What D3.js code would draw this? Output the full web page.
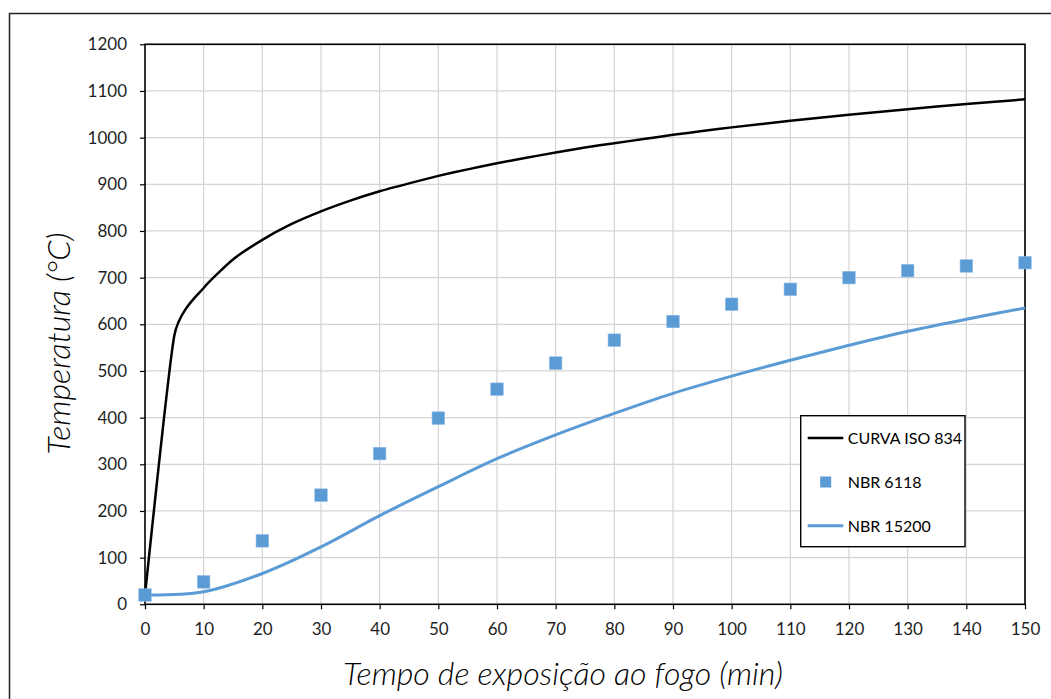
<!DOCTYPE html>
<html>
<head>
<meta charset="utf-8">
<script src="https://cdn.jsdelivr.net/npm/d3@7"></script>
<style>
  html, body { margin: 0; padding: 0; background: #fff; }
  svg { display: block; }
  text { font-family: Lato, "Open Sans", sans-serif; }
</style>
</head>
<body>
<svg id="chart" width="1051" height="699"></svg>
<script>
// Fire-exposure temperature curves (°C) against time (min)
const isoTime = [0, 5, 10, 15, 20, 25, 30, 35, 40, 45, 50, 55, 60, 65, 70, 75,
                 80, 85, 90, 95, 100, 110, 120, 130, 140, 150];
const isoTemp = [20, 576, 678, 739, 781, 815, 842, 865, 885, 902, 918, 932, 945, 957, 968, 979,
                 988, 997, 1006, 1014, 1022, 1036, 1049, 1061, 1072, 1082];

const nbr6118Time = [0, 10, 20, 30, 40, 50, 60, 70, 80, 90, 100, 110, 120, 130, 140, 150];
const nbr6118Temp = [20, 48, 136, 234, 323, 399, 461, 517, 566, 606, 643, 675, 700, 715, 725, 732];

const nbr15200Time = [0, 10, 20, 30, 40, 50, 60, 70, 80, 90, 100, 110, 120, 130, 140, 150];
const nbr15200Temp = [20, 27, 66, 123, 190, 252, 312, 363, 409, 452, 489, 523, 555, 585, 611, 635];

const xTicks = [0, 10, 20, 30, 40, 50, 60, 70, 80, 90, 100, 110, 120, 130, 140, 150];
const yTicks = [0, 100, 200, 300, 400, 500, 600, 700, 800, 900, 1000, 1100, 1200];

const seriesNames = ["CURVA ISO 834", "NBR 6118", "NBR 15200"];
const xTitle = "Tempo de exposição ao fogo (min)";
const yTitle = "Temperatura (°C)";

const svg = d3.select("#chart");
const plot = { left: 145, right: 1025, top: 44.3, bottom: 604.3 };
const blue = "#5b9bd5";

const x = d3.scaleLinear().domain([0, 150]).range([plot.left, plot.right]);
const y = d3.scaleLinear().domain([0, 1200]).range([plot.bottom, plot.top]);

// outer chart border (top and left edges visible)
svg.append("path")
  .attr("d", "M9.5,699 L9.5,13.5 L1051,13.5")
  .attr("fill", "none").attr("stroke", "#222").attr("stroke-width", 1.5);

// gridlines
const grid = svg.append("g");
grid.selectAll(".gx").data(xTicks.slice(1)).join("line")
  .attr("x1", d => x(d)).attr("x2", d => x(d))
  .attr("y1", plot.top).attr("y2", plot.bottom)
  .attr("stroke", "#d4d4d4").attr("stroke-width", 1.2);
grid.selectAll(".gy").data(yTicks.slice(1)).join("line")
  .attr("x1", plot.left).attr("x2", plot.right)
  .attr("y1", d => y(d)).attr("y2", d => y(d))
  .attr("stroke", "#d4d4d4").attr("stroke-width", 1.2);

// axes
const tickColor = "#1f1f1f";
const xAxis = svg.append("g").attr("transform", `translate(0,${plot.bottom})`)
  .call(d3.axisBottom(x).tickValues(xTicks).tickSize(5).tickPadding(14).tickFormat(d3.format("d")));
const yAxis = svg.append("g").attr("transform", `translate(${plot.left},0)`)
  .call(d3.axisLeft(y).tickValues(yTicks).tickSize(5).tickPadding(13).tickFormat(d3.format("d")));
[xAxis, yAxis].forEach(g => {
  g.select(".domain").remove();
  g.selectAll(".tick line").attr("stroke", "#000").attr("stroke-width", 1.2);
  g.selectAll(".tick text").attr("fill", tickColor)
    .style("font-family", "Lato, sans-serif").style("font-size", "17px");
});

// plot frame
svg.append("rect")
  .attr("x", plot.left).attr("y", plot.top)
  .attr("width", plot.right - plot.left).attr("height", plot.bottom - plot.top)
  .attr("fill", "none").attr("stroke", "#000").attr("stroke-width", 1.6);

// series
const isoLine = d3.line().x(d => x(d[0])).y(d => y(d[1])).curve(d3.curveCardinal.tension(0.5));
svg.append("path")
  .datum(d3.zip(isoTime, isoTemp))
  .attr("d", isoLine)
  .attr("fill", "none").attr("stroke", "#000").attr("stroke-width", 2.5);

const nbrLine = d3.line().x(d => x(d[0])).y(d => y(d[1])).curve(d3.curveCatmullRom.alpha(0.5));
svg.append("path")
  .datum(d3.zip(nbr15200Time, nbr15200Temp))
  .attr("d", nbrLine)
  .attr("fill", "none").attr("stroke", blue).attr("stroke-width", 3);

const sq = 12.5;
svg.append("g").selectAll("rect")
  .data(d3.zip(nbr6118Time, nbr6118Temp))
  .join("rect")
  .attr("x", d => x(d[0]) - sq / 2).attr("y", d => y(d[1]) - sq / 2)
  .attr("width", sq).attr("height", sq)
  .attr("fill", blue).attr("stroke", "#8ab8e3").attr("stroke-width", 0.6);

// legend
const lg = svg.append("g");
lg.append("rect")
  .attr("x", 800.7).attr("y", 415.7).attr("width", 164.3).attr("height", 131)
  .attr("fill", "#fff").attr("stroke", "#000").attr("stroke-width", 1.4);
const rowsY = [438, 482, 525.7];
lg.append("line").attr("x1", 807.7).attr("x2", 843.3).attr("y1", rowsY[0]).attr("y2", rowsY[0])
  .attr("stroke", "#000").attr("stroke-width", 2.5);
lg.append("rect").attr("x", 825.7 - 5.5).attr("y", rowsY[1] - 5.5).attr("width", 11).attr("height", 11)
  .attr("fill", blue);
lg.append("line").attr("x1", 807.7).attr("x2", 843.3).attr("y1", rowsY[2]).attr("y2", rowsY[2])
  .attr("stroke", blue).attr("stroke-width", 3);
lg.selectAll("text.lab").data(seriesNames).join("text")
  .attr("class", "lab")
  .attr("x", 847.7).attr("y", (d, i) => rowsY[i] + 5.8)
  .attr("fill", "#000").style("font-size", "16px")
  .text(d => d);

// axis titles, sized to their target widths
function fitText(sel, width) {
  const w = sel.node().getComputedTextLength();
  const fs = parseFloat(sel.style("font-size"));
  sel.style("font-size", (fs * width / w).toFixed(2) + "px");
}
const xt = svg.append("text")
  .attr("x", 563).attr("y", 685).attr("text-anchor", "middle")
  .attr("fill", "#000").style("font-style", "italic").style("font-weight", 300)
  .style("font-size", "28px").text(xTitle);
fitText(xt, 440);
const yt = svg.append("text")
  .attr("transform", "translate(70,343.5) rotate(-90)").attr("text-anchor", "middle")
  .attr("fill", "#000").style("font-style", "italic").style("font-weight", 300)
  .style("font-size", "28px").text(yTitle);
fitText(yt, 222);
</script>
</body>
</html>
